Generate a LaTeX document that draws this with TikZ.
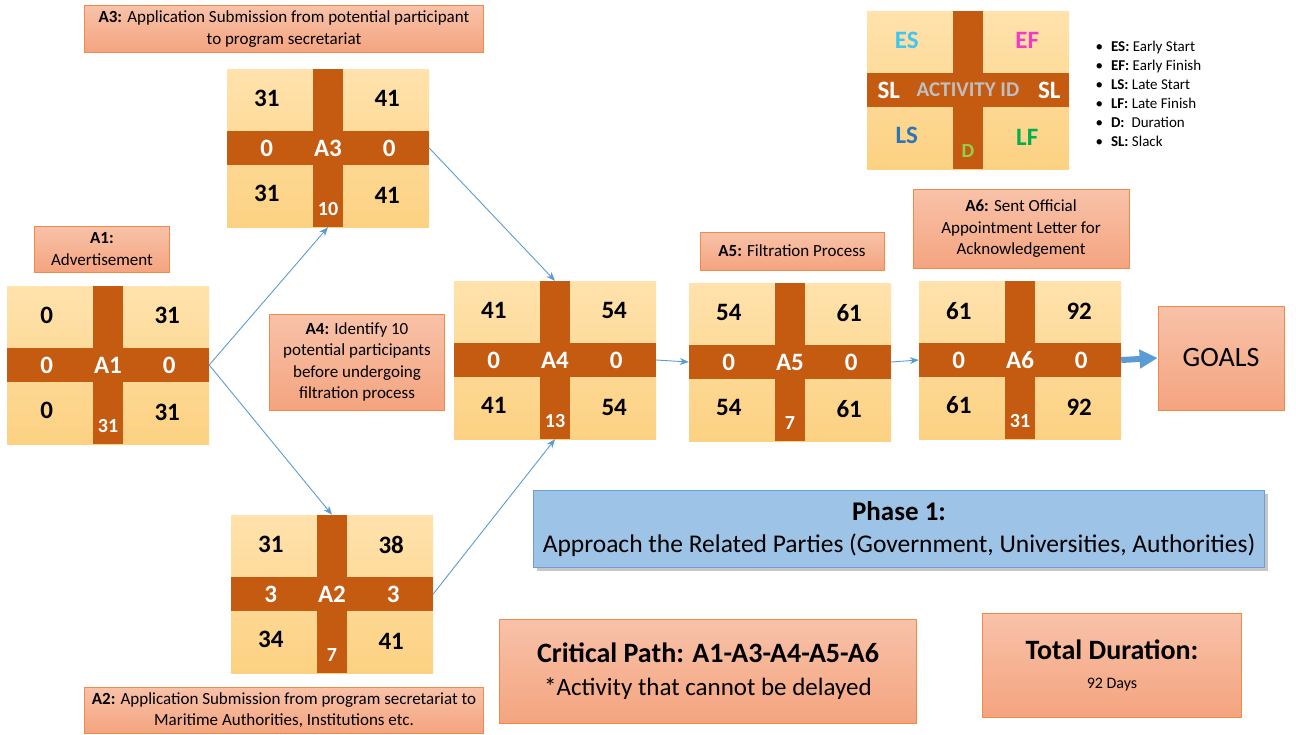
\documentclass[tikz,border=0pt]{standalone}
\usepackage{fontspec}
\setmainfont{Carlito}
\usepackage{tikz}
\usetikzlibrary{calc,shadows,arrows.meta}
\definecolor{barbrown}{HTML}{C55A11}
\definecolor{celltop}{HTML}{FFE2AC}
\definecolor{cellbot}{HTML}{FCD182}
\definecolor{lbltop}{HTML}{F8C2A9}
\definecolor{lblbot}{HTML}{F4A47F}
\definecolor{lbledge}{HTML}{F08A4B}
\definecolor{flowblue}{HTML}{5B9BD5}
\definecolor{phasefill}{HTML}{9DC3E6}
\definecolor{phaseedge}{HTML}{6F9FD2}
\definecolor{escol}{HTML}{3FC6F2}
\definecolor{efcol}{HTML}{F23BC5}
\definecolor{lscol}{HTML}{2E75B6}
\definecolor{lfcol}{HTML}{00B050}
\definecolor{dcol}{HTML}{92D050}
\definecolor{idgray}{HTML}{BFBFBF}
\tikzstyle{line} = [draw=flowblue, line width=0.9pt, -{Stealth[length=9pt,width=7pt]}]
\tikzstyle{bigarrow} = [draw=flowblue, line width=6pt, -{Triangle[length=18pt,width=18pt]}]
\tikzstyle{cell} = [rectangle, minimum width=202pt, minimum height=158pt, top color=celltop, bottom color=cellbot, inner sep=0pt]
\tikzstyle{num} = [font=\fontsize{25}{28}\selectfont\bfseries, text=black]
\tikzstyle{barnum} = [font=\fontsize{25}{28}\selectfont\bfseries, text=white]
\tikzstyle{dur} = [font=\fontsize{20}{22}\selectfont\bfseries, text=white]
\tikzstyle{note} = [draw=lbledge, line width=0.8pt, rectangle, top color=lbltop, bottom color=lblbot, align=center, inner sep=2pt, font=\fontsize{17}{21.5}\selectfont]
\tikzstyle{phase} = [draw=phaseedge, line width=0.8pt, rectangle, fill=phasefill, align=center, drop shadow={opacity=0.45, shadow xshift=3pt, shadow yshift=-3pt}]

% activity box: name, position, id, ES, EF, LS, LF, slack, duration
\newcommand{\actbox}[9]{%
    \node[cell] (#1) at #2 {};
    \fill[barbrown] ($(#1.north)+(-15,0)$) rectangle ($(#1.south)+(15,0)$);
    \fill[barbrown] ($(#1.west)+(0,-17)$) rectangle ($(#1.east)+(0,17)$);
    \node[num] (#1-es) at ($(#1.north west)+(40,30)$) {#4};
    \node[num] (#1-ef) at ($(#1.north east)+(-42,30)$) {#5};
    \node[num] (#1-ls) at ($(#1.south west)+(40,-34)$) {#6};
    \node[num] (#1-lf) at ($(#1.south east)+(-42,-32)$) {#7};
    \node[barnum] (#1-sll) at ($(#1.west)+(40,0)$) {#8};
    \node[barnum] (#1-slr) at ($(#1.east)+(-40,0)$) {#8};
    \node[barnum] (#1-id) at (#1.center) {#3};
    \node[dur] (#1-d) at ($(#1.south)+(0,-18)$) {#9};
}

\begin{document}
\begin{tikzpicture}[x=1pt, y=-1pt]
        \useasboundingbox (0,0) rectangle (1296,734);
        % activities
        \actbox{A1}{(108,365)}{A1}{0}{31}{0}{31}{0}{31}
        \actbox{A3}{(328,148)}{A3}{31}{41}{31}{41}{0}{10}
        \actbox{A2}{(332,594)}{A2}{31}{38}{34}{41}{3}{7}
        \actbox{A4}{(555,360)}{A4}{41}{54}{41}{54}{0}{13}
        \actbox{A5}{(790,362)}{A5}{54}{61}{54}{61}{0}{7}
        \actbox{A6}{(1020,360)}{A6}{61}{92}{61}{92}{0}{31}
        % legend
        \actbox{key}{(968,90)}{\fontsize{21}{24}\selectfont\textcolor{idgray}{ACTIVITY ID}}{\textcolor{escol}{ES}}{\textcolor{efcol}{EF}}{\textcolor{lscol}{LS}}{\textcolor{lfcol}{LF}}{}{\textcolor{dcol}{D}}
        \node[barnum] (keysll) at ($(key.west)+(22,0)$) {SL};
        \node[barnum] (keyslr) at ($(key.east)+(-20,0)$) {SL};
        \node[anchor=north west, align=left, font=\fontsize{15}{19}\selectfont] (keylist) at (1092,38) {%
            \textbullet\hspace{8pt}\textbf{ES:} Early Start\\
            \textbullet\hspace{8pt}\textbf{EF:} Early Finish\\
            \textbullet\hspace{8pt}\textbf{LS:} Late Start\\
            \textbullet\hspace{8pt}\textbf{LF:} Late Finish\\
            \textbullet\hspace{8pt}\textbf{D:}\hspace{7pt}Duration\\
            \textbullet\hspace{8pt}\textbf{SL:} Slack};
        % descriptions
        \node[note, minimum width=399pt, minimum height=47pt] (lblA3) at (284,29) {\textbf{A3:} Application Submission from potential participant\\to program secretariat};
        \node[note, minimum width=135pt, minimum height=46pt] (lblA1) at (102,249) {\textbf{A1:}\\Advertisement};
        \node[note, minimum width=175pt, minimum height=96pt] (lblA4) at (357,362) {\textbf{A4:} Identify 10\\potential participants\\before undergoing\\filtration process};
        \node[note, minimum width=184pt, minimum height=38pt] (lblA5) at (792,251) {\textbf{A5:} Filtration Process};
        \node[note, minimum width=216pt, minimum height=79pt] (lblA6) at (1021,229) {\textbf{A6:} Sent Official\\Appointment Letter for\\Acknowledgement};
        \node[note, minimum width=399pt, minimum height=46pt] (lblA2) at (284,710) {\textbf{A2:} Application Submission from program secretariat to\\Maritime Authorities, Institutions etc.};
        \node[note, minimum width=126pt, minimum height=104pt, font=\fontsize{28}{30}\selectfont] (goals) at (1221,358) {GOALS};
        \node[phase, minimum width=731pt, minimum height=77pt, font=\fontsize{25.5}{35}\selectfont] (phase) at (899,529) {\raisebox{-3pt}{\fontsize{27}{35}\selectfont\textbf{Phase 1:}}\\Approach the Related Parties (Government, Universities, Authorities)};
        \node[note, minimum width=417pt, minimum height=104pt, font=\fontsize{25}{33}\selectfont] (critical) at (708,671) {{\fontsize{28}{33}\selectfont\textbf{Critical Path: A1-A3-A4-A5-A6}}\\*Activity that cannot be delayed};
        \node[note, minimum width=259pt, minimum height=104pt, font=\fontsize{16}{29}\selectfont] (total) at (1112,665) {{\fontsize{28}{29}\selectfont\textbf{Total Duration:}}\\92 Days};
        % connectors
        \path[line] (A1.east) -- (A3.south);
        \path[line] (A1.east) -- (A2.north);
        \path[line] (A3.east) -- (A4.north);
        \path[line] (A2.east) -- (A4.south);
        \path[line] (A4.east) -- (A5.west);
        \path[line] (A5.east) -- (A6.west);
        \path[bigarrow] (A6.east) -- (goals.west);
    \end{tikzpicture}
\end{document}
